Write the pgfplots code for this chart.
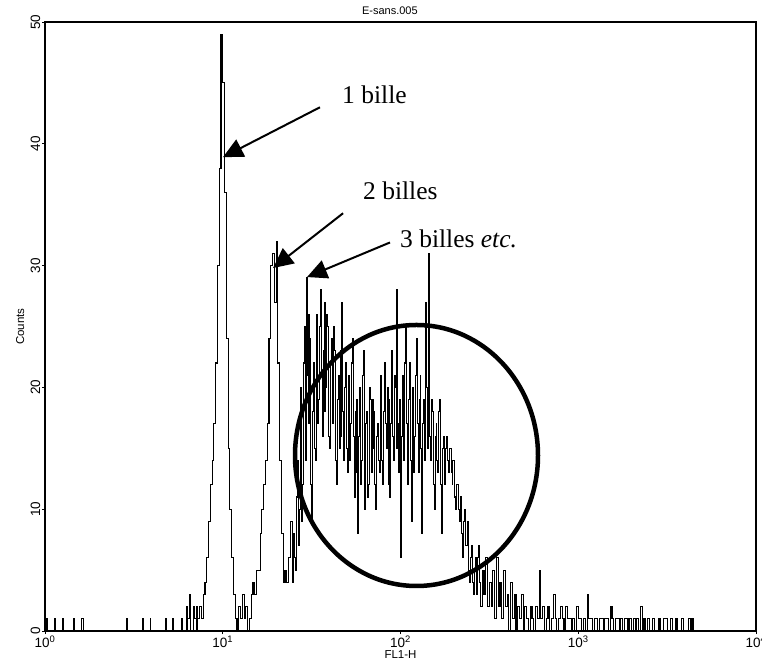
\documentclass[border=0pt]{standalone}
\usepackage{fontspec}
\setmainfont{Liberation Sans}
\newfontfamily\timesf{Liberation Serif}
\usepackage{pgfplots}
\pgfplotsset{compat=1.18}
\usetikzlibrary{arrows.meta}
\begin{document}
\begin{tikzpicture}
\begin{axis}[
  name=ax,
  scale only axis, width=711pt, height=609pt,
  xmin=0, xmax=4, ymin=0, ymax=50,
  xtick={0,1,2,3,4},
  xticklabels={10\textsuperscript{0},10\textsuperscript{1},10\textsuperscript{2},10\textsuperscript{3},10\textsuperscript{4}},
  ytick={0,10,20,30,40,50},
  /pgf/number format/assume math mode=true,
  minor tick num=0,
  tick pos=left,
  tick align=outside,
  major tick length=3pt,
  tick style={black, line width=0.8pt},
  axis line style={black, line width=1.2pt},
  ticklabel style={font=\fontsize{13.5}{15}\selectfont},
  yticklabel style={rotate=90, anchor=south, inner sep=1.5pt},
  xticklabel style={anchor=north, inner sep=1.5pt},
  title={E-sans.005},
  title style={at={(axis description cs:0.485,1)}, anchor=south, inner sep=1.5pt, font=\fontsize{11}{13}\selectfont},
  xlabel={FL1-H},
  xlabel style={at={(axis description cs:0.5,0)}, anchor=center, yshift=-24pt, font=\fontsize{11.5}{13}\selectfont},
  ylabel={Counts},
  ylabel style={at={(axis description cs:-0.035,0.5)}, anchor=center, font=\fontsize{11.5}{13}\selectfont},
]
\addplot[const plot, black, line width=1.1pt] table {
x y
0 0
0.011 1
0.016 0
0.051 1
0.056 0
0.101 1
0.106 0
0.158 1
0.163 0
0.203 1
0.214 1
0.219 0
0.461 1
0.466 0
0.551 1
0.556 0
0.591 1
0.596 0
0.681 1
0.686 0
0.720 1
0.725 0
0.771 1
0.776 0
0.799 2
0.804 1
0.816 3
0.821 0
0.833 2
0.838 1
0.850 2
0.855 0
0.86 1
0.87 2
0.88 1
0.89 3
0.90 4
0.91 6
0.92 9
0.93 12
0.94 14
0.95 17
0.96 22
0.97 30
0.98 38
0.99 49
1.00 45
1.01 36
1.02 24
1.03 15
1.04 10
1.05 6
1.06 3
1.07 1
1.08 0
1.09 2
1.10 1
1.11 3
1.12 1
1.13 2
1.14 0
1.15 1
1.16 3
1.17 4
1.18 3
1.19 5
1.20 5
1.21 8
1.22 10
1.23 12
1.24 14
1.25 17
1.26 24
1.27 30
1.28 31
1.29 27
1.30 32
1.31 22
1.32 14
1.33 8
1.34 4
1.35 5
1.36 4
1.37 6
1.38 9
1.39 4
1.400 8
1.405 6
1.410 5
1.415 11
1.420 14
1.425 7
1.430 10
1.435 16
1.440 20
1.445 9
1.450 12
1.455 22
1.460 25
1.465 14
1.470 29
1.475 21
1.480 17
1.485 26
1.490 24
1.495 12
1.500 9
1.505 18
1.510 22
1.515 15
1.520 14
1.525 24
1.530 26
1.535 17
1.540 19
1.545 25
1.550 28
1.555 21
1.560 16
1.565 23
1.570 27
1.575 18
1.580 20
1.585 26
1.590 25
1.595 16
1.600 15
1.605 22
1.610 24
1.615 19
1.620 17
1.625 25
1.630 23
1.635 14
1.640 12
1.645 19
1.650 21
1.655 15
1.660 16
1.665 23
1.670 27
1.675 18
1.680 14
1.685 20
1.690 22
1.695 15
1.700 13
1.705 19
1.710 21
1.715 14
1.720 17
1.725 22
1.730 24
1.735 16
1.740 11
1.745 18
1.750 19
1.755 13
1.760 8
1.765 16
1.770 20
1.775 12
1.780 14
1.785 21
1.790 23
1.795 15
1.800 10
1.805 17
1.810 18
1.815 11
1.820 12
1.825 20
1.830 19
1.835 13
1.840 15
1.845 19
1.850 18
1.855 12
1.860 10
1.865 16
1.870 17
1.875 14
1.880 13
1.885 19
1.890 21
1.895 14
1.900 12
1.905 18
1.910 22
1.915 17
1.920 15
1.925 20
1.930 19
1.935 12
1.940 11
1.945 17
1.950 23
1.955 16
1.960 14
1.965 21
1.970 20
1.975 15
1.980 28
1.985 17
1.990 13
1.995 19
2.000 6
2.005 16
2.010 21
2.015 14
2.020 15
2.025 22
2.030 25
2.035 17
2.040 12
2.045 19
2.050 22
2.055 14
2.060 9
2.065 18
2.070 20
2.075 13
2.080 16
2.085 21
2.090 24
2.095 17
2.100 13
2.105 19
2.110 21
2.115 15
2.120 8
2.125 17
2.130 19
2.135 14
2.140 27
2.145 20
2.150 15
2.155 18
2.160 31
2.165 16
2.170 14
2.175 19
2.180 18
2.185 12
2.190 10
2.195 16
2.200 17
2.205 14
2.210 13
2.215 18
2.220 19
2.225 12
2.230 8
2.235 15
2.240 16
2.245 13
2.250 12
2.255 15
2.260 16
2.265 14
2.270 13
2.275 15
2.280 15
2.285 13
2.290 12
2.295 14
2.300 14
2.305 11
2.310 10
2.315 12
2.320 12
2.325 10
2.330 9
2.335 11
2.340 11
2.345 8
2.350 6
2.355 9
2.360 10
2.365 7
2.370 7
2.375 9
2.380 8
2.385 5
2.390 4
2.395 6
2.400 7
2.405 4
2.410 3
2.415 5
2.420 6
2.425 3
2.430 3
2.435 6
2.440 7
2.445 4
2.45 2
2.46 5
2.47 3
2.48 6
2.49 2
2.50 4
2.51 2
2.52 5
2.53 1
2.54 6
2.55 2
2.56 4
2.57 1
2.58 5
2.59 2
2.60 3
2.61 0
2.62 4
2.63 1
2.64 3
2.65 0
2.66 2
2.67 1
2.68 3
2.69 0
2.70 2
2.71 1
2.72 0
2.73 2
2.74 1
2.75 0
2.76 2
2.77 1
2.78 5
2.79 1
2.80 2
2.81 0
2.82 1
2.83 2
2.84 0
2.85 1
2.86 3
2.87 1
2.88 0
2.89 1
2.90 2
2.91 1
2.92 0
2.93 2
2.94 1
2.95 1
2.96 0
2.97 1
2.98 0
2.99 2
3.00 1
3.01 1
3.02 0
3.03 1
3.04 0
3.05 3
3.06 1
3.07 1
3.08 0
3.09 1
3.10 1
3.11 0
3.12 1
3.13 1
3.14 0
3.15 1
3.16 1
3.17 0
3.18 2
3.19 1
3.20 0
3.21 1
3.22 1
3.23 0
3.24 1
3.25 0
3.26 1
3.27 1
3.28 0
3.29 1
3.30 0
3.31 1
3.32 0
3.33 1
3.34 0
3.35 2
3.36 0
3.37 1
3.38 0
3.39 1
3.40 0
3.42 1
3.43 0
3.45 1
3.46 0
3.48 1
3.49 1
3.50 0
3.52 1
3.53 0
3.55 1
3.56 0
3.58 1
3.59 0
3.62 1
3.63 0
3.64 1
3.65 0
4.00 0
};
% annotations
\draw[black, line width=4.5pt] (axis cs:2.090,14.41) ellipse [x radius=121.5pt, y radius=130.5pt];
\draw[black, line width=2pt, -{Triangle[length=20pt,width=19pt]}] (axis cs:1.547,43.0) -- (axis cs:1.001,38.9);
\draw[black, line width=2pt, -{Triangle[length=20pt,width=19pt]}] (axis cs:1.677,34.3) -- (axis cs:1.283,29.8);
\draw[black, line width=2pt, -{Triangle[length=20pt,width=19pt]}] (axis cs:1.941,31.9) -- (axis cs:1.474,29.06);
\node[anchor=base west, inner sep=0pt, font=\timesf\fontsize{25.5}{30}\selectfont] at (axis cs:1.671,43.27) {1 bille};
\node[anchor=base west, inner sep=0pt, font=\timesf\fontsize{25.5}{30}\selectfont] at (axis cs:1.789,35.39) {2 billes};
\node[anchor=base west, inner sep=0pt, font=\timesf\fontsize{25.5}{30}\selectfont] at (axis cs:1.997,31.45) {3 billes \textit{etc.}};
\end{axis}
\pgfresetboundingbox
\path (ax.south west) ++(-45pt,-34pt) rectangle ++(762pt,665pt);
\end{tikzpicture}
\end{document}
